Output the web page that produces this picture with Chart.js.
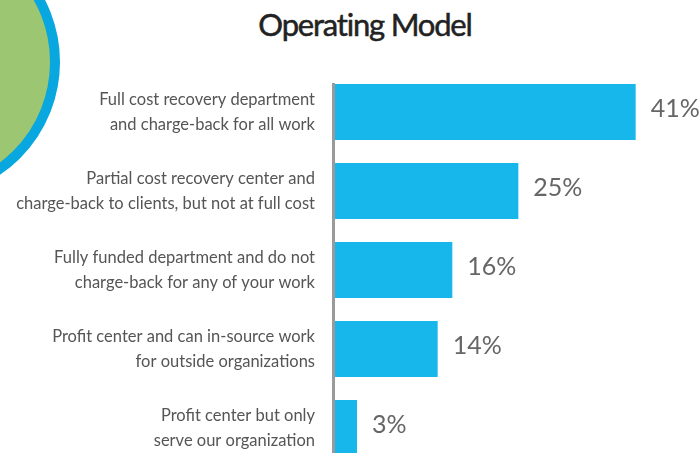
<!DOCTYPE html>
<html>
<head>
<meta charset="utf-8">
<script src="https://cdn.jsdelivr.net/npm/chart.js@4/dist/chart.umd.min.js"></script>
<style>
  html, body { margin: 0; padding: 0; background: #fff; overflow: hidden; }
  body { width: 699px; height: 453px; position: relative; }
  #badge {
    position: absolute; left: -212px; top: -74px; width: 272px; height: 272px;
    box-sizing: border-box; border-radius: 50%;
    background: #9cc671; border: 10px solid #08a7df;
  }
  #title {
    position: absolute; left: 0; top: 9px; width: 730px; text-align: center;
    font-family: Lato, "Liberation Sans", sans-serif;
    font-size: 31px; line-height: 31px; color: #222; letter-spacing: -1.2px;
    -webkit-text-stroke: 0.5px #222;
  }
  #wrap { position: absolute; left: 0; top: 0; width: 720px; height: 500px; }
</style>
</head>
<body>
<div id="badge"></div>
<div id="title">Operating Model</div>
<div id="wrap"><canvas id="chart1"></canvas></div>
<script>
// Operating model survey answers
const models = [
  ["Full cost recovery department", "and charge-back for all work"],
  ["Partial cost recovery center and", "charge-back to clients, but not at full cost"],
  ["Fully funded department and do not", "charge-back for any of your work"],
  ["Profit center and can in-source work", "for outside organizations"],
  ["Profit center but only", "serve our organization"],
];
const share = [41, 25, 16, 14, 3];

const fontFamily = 'Lato, "Liberation Sans", sans-serif';

// percent text next to each bar + the gray axis line
const valueLabels = {
  id: "valueLabels",
  afterDatasetsDraw(chart) {
    const ctx = chart.ctx;
    const bars = chart.getDatasetMeta(0).data;
    ctx.save();
    ctx.strokeStyle = "#9a9a9a";
    ctx.lineWidth = 3;
    ctx.beginPath();
    ctx.moveTo(chart.chartArea.left - 1.5, bars[0].y - bars[0].height / 2 - 1);
    ctx.lineTo(chart.chartArea.left - 1.5, chart.chartArea.bottom);
    ctx.stroke();

    ctx.fillStyle = "#666";
    ctx.font = "25px " + fontFamily;
    ctx.textBaseline = "middle";
    ctx.textAlign = "left";
    bars.forEach((bar, i) => {
      ctx.fillText(share[i] + "%", bar.x + 15, bar.y - 3);
    });
    ctx.restore();
  },
};

const data1 = {
  labels: models,
  datasets: [
    {
      data: share,
      backgroundColor: "#17b7eb",
      borderWidth: 0,
      categoryPercentage: 1,
      barPercentage: 0.709,
    },
  ],
};

const config1 = {
  type: "bar",
  data: data1,
  options: {
    indexAxis: "y",
    responsive: true,
    maintainAspectRatio: false,
    animation: false,
    layout: { padding: { top: 72.5, bottom: 32.5, left: 0, right: 0 } },
    plugins: {
      legend: { display: false },
      tooltip: { enabled: false },
    },
    scales: {
      x: {
        display: false,
        min: 0,
        max: 52.5,
      },
      y: {
        afterFit(scale) {
          scale.width = 335;
          scale.paddingTop = 0;
          scale.paddingBottom = 0;
        },
        grid: { display: false, drawTicks: false },
        border: { display: false },
        ticks: {
          padding: 20,
          color: "#555",
          font: { family: fontFamily, size: 16.5, lineHeight: 1.52 },
        },
      },
    },
  },
  plugins: [valueLabels],
};

const barChart = new Chart(document.getElementById("chart1"), config1);
</script>
</body>
</html>
